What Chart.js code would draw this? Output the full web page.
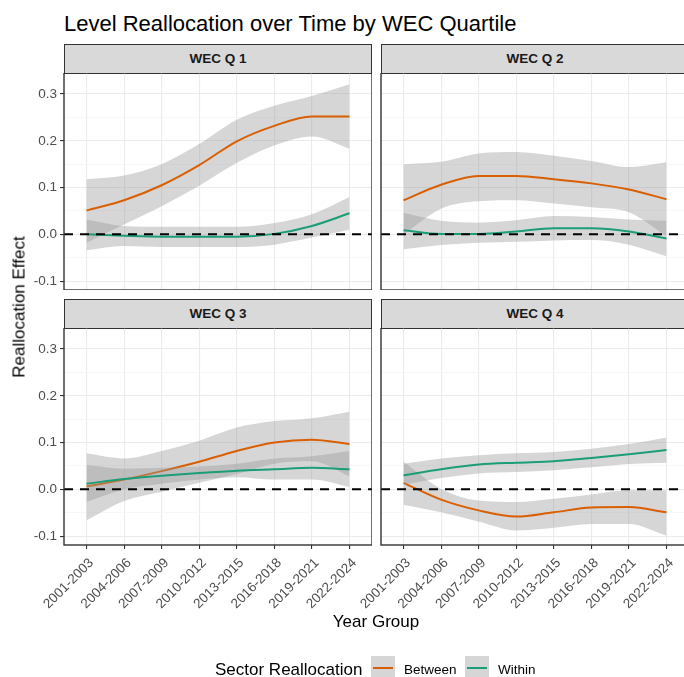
<!DOCTYPE html>
<html>
<head>
<meta charset="utf-8">
<script src="https://cdn.jsdelivr.net/npm/chart.js@4.4.1/dist/chart.umd.min.js"></script>
<style>
  html, body { margin: 0; padding: 0; background: #fff; overflow: hidden; }
  #fig { position: relative; width: 684px; height: 677px; overflow: hidden;
         font-family: "Liberation Sans", Arial, sans-serif; color: #000; }
  #fig canvas { position: absolute; }
  .txt { position: absolute; white-space: nowrap; line-height: 1; }
  .strip { position: absolute; width: 308px; height: 30px; box-sizing: border-box;
           background: #d9d9d9; border: 1px solid #333; font-weight: bold; font-size: 13.5px;
           color: #1a1a1a; text-align: center; line-height: 28px; }
  .key { position: absolute; width: 24px; height: 24px; background: #d6d6d6; }
  .key span { position: absolute; left: 2px; top: 11px; width: 20px; height: 2px; }
</style>
</head>
<body>
<div id="fig">
  <div class="txt" style="left:64px; top:13px; font-size:22px;">Level Reallocation over Time by WEC Quartile</div>

  <div class="strip" style="left:64px; top:44px;">WEC Q 1</div>
  <div class="strip" style="left:381px; top:44px;">WEC Q 2</div>
  <div class="strip" style="left:64px; top:299px;">WEC Q 3</div>
  <div class="strip" style="left:381px; top:299px;">WEC Q 4</div>

  <canvas id="q1" width="372" height="217" style="left:0px; top:73px;"></canvas>
  <canvas id="q2" width="372" height="217" style="left:317px; top:73px;"></canvas>
  <canvas id="q3" width="372" height="290" style="left:0px; top:328px;"></canvas>
  <canvas id="q4" width="372" height="290" style="left:317px; top:328px;"></canvas>

  <div class="txt" style="left:19px; top:307px; font-size:17px; transform:translate(-50%,-50%) rotate(-90deg);">Reallocation Effect</div>
  <div class="txt" style="left:376px; top:613px; font-size:17px; transform:translateX(-50%);">Year Group</div>

  <div class="txt" style="left:215px; top:661px; font-size:17px;">Sector Reallocation</div>
  <div class="key" style="left:371px; top:656px;"><span style="background:#D95F02"></span></div>
  <div class="txt" style="left:404px; top:663px; font-size:13.5px;">Between</div>
  <div class="key" style="left:465px; top:656px;"><span style="background:#1B9E77"></span></div>
  <div class="txt" style="left:498px; top:663px; font-size:13.5px;">Within</div>
</div>

<script>
// x categories and y ticks
const yearGroups = ['2001-2003', '2004-2006', '2007-2009', '2010-2012',
                    '2013-2015', '2016-2018', '2019-2021', '2022-2024'];
const yTickValues = [-0.1, -0.05, 0, 0.05, 0.1, 0.15, 0.2, 0.25, 0.3];
const Y_MIN = -0.119;
const Y_MAX = 0.345;

// smoothed effect and its band, per quartile
const q1Between   = [0.051, 0.073, 0.105, 0.148, 0.199, 0.232, 0.252, 0.252];
const q1BetweenLo = [-0.018, 0.021, 0.060, 0.104, 0.153, 0.190, 0.209, 0.183];
const q1BetweenHi = [0.118, 0.126, 0.150, 0.193, 0.245, 0.275, 0.296, 0.321];
const q1Within    = [0.000, -0.003, -0.005, -0.005, -0.005, 0.001, 0.018, 0.045];
const q1WithinLo  = [-0.034, -0.025, -0.027, -0.027, -0.027, -0.022, -0.007, 0.010];
const q1WithinHi  = [0.032, 0.018, 0.016, 0.016, 0.016, 0.024, 0.043, 0.080];

const q2Between   = [0.073, 0.106, 0.125, 0.125, 0.118, 0.109, 0.096, 0.075];
const q2BetweenLo = [0.000, 0.055, 0.071, 0.073, 0.066, 0.058, 0.047, -0.004];
const q2BetweenHi = [0.150, 0.155, 0.173, 0.176, 0.168, 0.157, 0.144, 0.154];
const q2Within    = [0.009, 0.001, 0.001, 0.006, 0.013, 0.013, 0.006, -0.009];
const q2WithinLo  = [-0.032, -0.023, -0.018, -0.016, -0.013, -0.012, -0.022, -0.047];
const q2WithinHi  = [0.046, 0.029, 0.025, 0.030, 0.039, 0.037, 0.032, 0.029];

const q3Between   = [0.006, 0.021, 0.039, 0.059, 0.082, 0.100, 0.106, 0.097];
const q3BetweenLo = [-0.066, -0.025, -0.005, 0.014, 0.033, 0.055, 0.060, 0.028];
const q3BetweenHi = [0.077, 0.066, 0.082, 0.104, 0.132, 0.146, 0.152, 0.166];
const q3Within    = [0.012, 0.022, 0.029, 0.035, 0.040, 0.043, 0.046, 0.043];
const q3WithinLo  = [-0.027, 0.000, 0.012, 0.021, 0.026, 0.021, 0.021, 0.005];
const q3WithinHi  = [0.052, 0.044, 0.046, 0.049, 0.055, 0.066, 0.071, 0.082];

const q4Between   = [0.014, -0.022, -0.045, -0.058, -0.049, -0.039, -0.038, -0.049];
const q4BetweenLo = [-0.033, -0.049, -0.069, -0.088, -0.082, -0.074, -0.074, -0.099];
const q4BetweenHi = [0.059, 0.001, -0.024, -0.027, -0.020, -0.011, -0.002, -0.002];
const q4Within    = [0.030, 0.043, 0.053, 0.057, 0.060, 0.067, 0.075, 0.084];
const q4WithinLo  = [0.010, 0.024, 0.034, 0.037, 0.041, 0.047, 0.054, 0.057];
const q4WithinHi  = [0.055, 0.066, 0.073, 0.077, 0.080, 0.087, 0.097, 0.111];

const ORANGE = '#D95F02';
const GREEN = '#1B9E77';
const BAND = 'rgba(153,153,153,0.4)';
const FONT = '"Liberation Sans", Arial, sans-serif';

const pts = arr => arr.map((v, i) => ({ x: i + 1, y: v }));
const isMajor = v => Math.abs(v * 10 - Math.round(v * 10)) < 1e-6;

// dashed reference line at zero and the panel frame
const panelDecor = {
  id: 'panelDecor',
  afterDatasetsDraw(chart) {
    const { ctx, chartArea: a, scales } = chart;
    const y0 = scales.y.getPixelForValue(0);
    ctx.save();
    ctx.strokeStyle = '#000';
    ctx.lineWidth = 2;
    ctx.setLineDash([9, 7]);
    ctx.beginPath();
    ctx.moveTo(a.left, y0);
    ctx.lineTo(a.right, y0);
    ctx.stroke();
    ctx.restore();
  },
  afterDraw(chart) {
    const { ctx, chartArea: a } = chart;
    ctx.save();
    ctx.strokeStyle = '#333';
    ctx.lineWidth = 1.4;
    ctx.strokeRect(a.left, a.top, a.right - a.left, a.bottom - a.top);
    ctx.restore();
  }
};

function line(label, values, color, order) {
  return { label, data: pts(values), borderColor: color, borderWidth: 2, pointRadius: 0,
           fill: false, cubicInterpolationMode: 'monotone', order };
}
function band(lo, hi, order) {
  return [
    { data: pts(lo), borderWidth: 0, pointRadius: 0, fill: false,
      cubicInterpolationMode: 'monotone', order },
    { data: pts(hi), borderWidth: 0, pointRadius: 0, fill: '-1', backgroundColor: BAND,
      cubicInterpolationMode: 'monotone', order }
  ];
}

function makePanel(id, s, showX, showY) {
  const datasets = [
    ...band(s.betweenLo, s.betweenHi, 4),
    line('Between', s.between, ORANGE, 3),
    ...band(s.withinLo, s.withinHi, 2),
    line('Within', s.within, GREEN, 1)
  ];
  return new Chart(document.getElementById(id), {
    type: 'line',
    data: { datasets },
    plugins: [panelDecor],
    options: {
      responsive: false,
      animation: false,
      devicePixelRatio: 1,
      layout: { padding: 0 },
      plugins: { legend: { display: false }, tooltip: { enabled: false } },
      scales: {
        x: {
          type: 'linear', min: 0.4, max: 8.6,
          afterBuildTicks: sc => { sc.ticks = yearGroups.map((_, i) => ({ value: i + 1 })); },
          afterFit: sc => { sc.height = showX ? 73 : 0; sc.paddingLeft = 0; sc.paddingRight = 0; },
          border: { display: false },
          grid: { color: '#ebebeb', lineWidth: 1.1, drawTicks: showX, tickLength: 4, tickColor: '#333' },
          ticks: {
            display: showX, autoSkip: false, minRotation: 45, maxRotation: 45,
            padding: 6, labelOffset: 5, color: '#4d4d4d', font: { family: FONT, size: 13.5 },
            callback: v => yearGroups[Math.round(v) - 1]
          }
        },
        y: {
          min: Y_MIN, max: Y_MAX,
          afterBuildTicks: sc => { sc.ticks = yTickValues.map(v => ({ value: v })); },
          afterFit: sc => { sc.width = 64; sc.paddingTop = 0; sc.paddingBottom = 0; },
          border: { display: false },
          grid: {
            color: c => (c.tick && !isMajor(c.tick.value)) ? '#f3f3f3' : '#ebebeb',
            lineWidth: c => (c.tick && !isMajor(c.tick.value)) ? 0.7 : 1.1,
            drawTicks: showY, tickLength: 4,
            tickColor: c => (c.tick && !isMajor(c.tick.value)) ? 'rgba(0,0,0,0)' : '#333'
          },
          ticks: {
            display: showY, padding: 3, color: '#4d4d4d', font: { family: FONT, size: 13.5 },
            callback: v => isMajor(v) ? v.toFixed(1) : ''
          }
        }
      }
    }
  });
}

makePanel('q1', { between: q1Between, betweenLo: q1BetweenLo, betweenHi: q1BetweenHi,
                  within: q1Within, withinLo: q1WithinLo, withinHi: q1WithinHi }, false, true);
makePanel('q2', { between: q2Between, betweenLo: q2BetweenLo, betweenHi: q2BetweenHi,
                  within: q2Within, withinLo: q2WithinLo, withinHi: q2WithinHi }, false, false);
makePanel('q3', { between: q3Between, betweenLo: q3BetweenLo, betweenHi: q3BetweenHi,
                  within: q3Within, withinLo: q3WithinLo, withinHi: q3WithinHi }, true, true);
makePanel('q4', { between: q4Between, betweenLo: q4BetweenLo, betweenHi: q4BetweenHi,
                  within: q4Within, withinLo: q4WithinLo, withinHi: q4WithinHi }, true, false);
</script>
</body>
</html>
